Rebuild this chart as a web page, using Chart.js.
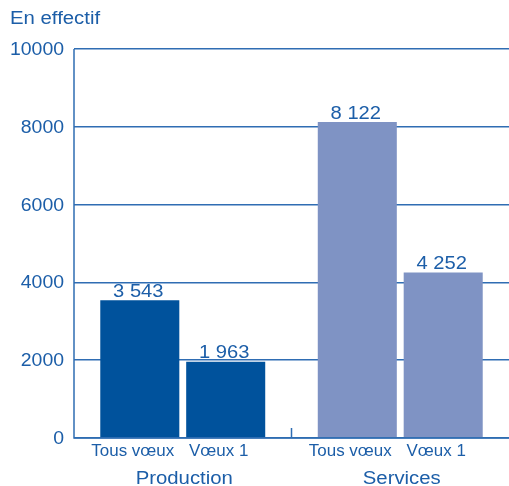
<!DOCTYPE html>
<html><head><meta charset="utf-8">
<script src="https://cdn.jsdelivr.net/npm/chart.js@4"></script>
<style>html,body{margin:0;padding:0;background:#fff}#wrap{width:509px;height:486px}</style>
</head><body><div id="wrap"><canvas id="c" width="509" height="486"></canvas></div>
<script>
const groups = ["Production", "Services"];
const subLabels = ["Tous vœux", "Vœux 1"];
const tousVoeux = [3543, 8122];
const voeux1 = [1963, 4252];
const groupColors = ["#00529c", "#7f93c4"];
const yTicks = [0, 2000, 4000, 6000, 8000, 10000];

const TXT = "#1c5ea8";
const LINE = "#2f6db3";
const FONT = "'Liberation Sans', Arial, sans-serif";
const fmt = v => String(v).replace(/\B(?=(\d{3})+(?!\d))/g, " ");

function text(ctx, s, x, y, size, align, base, sx) {
  ctx.save();
  ctx.font = size + "px " + FONT;
  ctx.textAlign = align;
  ctx.textBaseline = base;
  ctx.translate(x, y);
  ctx.scale(sx, 1);
  ctx.fillText(s, 0, 0);
  ctx.restore();
}

const overlay = {
  id: "overlay",
  afterDatasetsDraw(chart) {
    const ctx = chart.ctx, x = chart.scales.x, y = chart.scales.y, ca = chart.chartArea;
    ctx.save();
    ctx.fillStyle = TXT;
    yTicks.forEach(v => text(ctx, String(v), ca.left - 10, y.getPixelForValue(v) + 1, 18, "right", "middle", 1.08));
    chart.data.datasets.forEach((ds, di) => {
      chart.getDatasetMeta(di).data.forEach((bar, i) => {
        text(ctx, fmt(ds.data[i]), bar.x - 1.5, bar.y - 3.5, 18, "center", "alphabetic", 1.12);
        text(ctx, subLabels[di], bar.x - 7, ca.bottom + 14, 16, "center", "middle", 1.06);
      });
    });
    groups.forEach((g, i) => {
      const m0 = chart.getDatasetMeta(0).data[i], m1 = chart.getDatasetMeta(1).data[i];
      text(ctx, g, (m0.x + m1.x) / 2 + 1.5, ca.bottom + 41, 18, "center", "middle", 1.13);
    });
    ctx.strokeStyle = LINE;
    ctx.lineWidth = 1.5;
    ctx.beginPath();
    ctx.moveTo(ca.left, ca.top); ctx.lineTo(ca.left, ca.bottom);
    ctx.lineTo(ca.right, ca.bottom);
    const bx = (x.getPixelForValue(0) + x.getPixelForValue(1)) / 2;
    ctx.moveTo(bx, ca.bottom); ctx.lineTo(bx, ca.bottom - 10);
    ctx.stroke();
    text(ctx, "En effectif", 10, 19, 18, "left", "middle", 1.13);
    ctx.restore();
  }
};

new Chart(document.getElementById("c"), {
  type: "bar",
  data: {
    labels: groups,
    datasets: [
      { label: subLabels[0], data: tousVoeux, backgroundColor: groupColors },
      { label: subLabels[1], data: voeux1, backgroundColor: groupColors }
    ]
  },
  options: {
    responsive: false,
    animation: false,
    devicePixelRatio: 1,
    layout: { padding: { top: 49, right: 0, left: 0, bottom: 0 } },
    plugins: { legend: { display: false }, tooltip: { enabled: false } },
    datasets: { bar: { categoryPercentage: 0.79, barPercentage: 0.92 } },
    scales: {
      x: {
        grid: { display: false },
        border: { display: false },
        ticks: { display: false },
        afterFit(s) { s.height = 48; }
      },
      y: {
        min: 0, max: 10000,
        afterBuildTicks(s) { s.ticks = yTicks.map(v => ({ value: v })); },
        grid: { color: LINE, lineWidth: 1.5, drawTicks: false },
        border: { display: false },
        ticks: { display: false },
        afterFit(s) { s.width = 74; }
      }
    }
  },
  plugins: [overlay]
});
</script></body></html>
